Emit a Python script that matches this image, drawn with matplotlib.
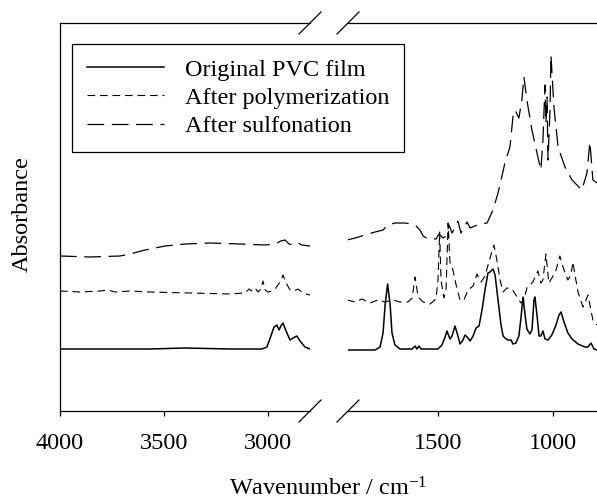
import matplotlib
matplotlib.use("Agg")
import matplotlib.pyplot as plt

plt.rcParams['font.family'] = ['Liberation Serif', 'DejaVu Serif']
plt.rcParams['mathtext.fontset'] = 'custom'
plt.rcParams['mathtext.rm'] = 'Liberation Serif'
plt.rcParams['mathtext.it'] = 'Liberation Serif:italic'
plt.rcParams['lines.scale_dashes'] = False

# --- spectra (wavenumber / cm-1, absorbance a.u.) ---
# high wavenumber part (4000 - 2800)
orig_hi_wn = [4000, 3567, 3399, 3183, 3029, 3005, 2986, 2971, 2957, 2947, 2938, 2928,
              2913, 2894, 2880, 2861, 2846, 2822, 2798]
orig_hi_a = [0.62, 0.62, 0.63, 0.62, 0.62, 0.64, 0.75, 0.84, 0.86, 0.81, 0.85, 0.88,
             0.80, 0.71, 0.73, 0.75, 0.70, 0.64, 0.62]

poly_hi_wn = [4000, 3904, 3808, 3769, 3736, 3663, 3567, 3375, 3183, 3111, 3091, 3077,
              3062, 3048, 3034, 3024, 3014, 3000, 2981, 2966, 2942, 2928, 2913, 2894,
              2875, 2856, 2837, 2817, 2798]
poly_hi_a = [1.20, 1.19, 1.20, 1.21, 1.19, 1.20, 1.19, 1.18, 1.17, 1.18, 1.22, 1.20,
             1.23, 1.19, 1.22, 1.30, 1.21, 1.19, 1.20, 1.22, 1.29, 1.36, 1.28, 1.21,
             1.20, 1.22, 1.19, 1.17, 1.16]

sulf_hi_wn = [4000, 3856, 3712, 3663, 3591, 3495, 3399, 3279, 3135, 3014, 2966, 2938,
              2918, 2899, 2875, 2856, 2837, 2798]
sulf_hi_a = [1.55, 1.54, 1.55, 1.57, 1.61, 1.65, 1.67, 1.68, 1.67, 1.66, 1.67, 1.70,
             1.71, 1.67, 1.66, 1.68, 1.66, 1.65]

# fingerprint part (1900 - 800)
orig_lo_wn = [1897, 1775, 1753, 1740, 1731, 1720, 1709, 1701, 1688, 1666, 1613, 1600,
              1592, 1583, 1574, 1500, 1483, 1469, 1461, 1448, 1439, 1426, 1413, 1404,
              1391, 1382, 1369, 1360, 1347, 1334, 1321, 1308, 1295, 1282, 1273, 1260,
              1251, 1238, 1225, 1216, 1208, 1195, 1181, 1173, 1160, 1147, 1138, 1129,
              1120, 1112, 1099, 1090, 1081, 1077, 1068, 1059, 1051, 1042, 1033, 1020,
              1003, 985, 972, 963, 950, 933, 915, 889, 859, 846, 832, 819, 806]
orig_lo_a = [0.61, 0.61, 0.64, 0.78, 1.06, 1.27, 1.06, 0.78, 0.66, 0.62, 0.62, 0.65,
             0.62, 0.65, 0.62, 0.62, 0.66, 0.74, 0.80, 0.72, 0.75, 0.85, 0.75, 0.67,
             0.71, 0.76, 0.73, 0.70, 0.75, 0.83, 0.85, 1.01, 1.21, 1.38, 1.39, 1.42,
             1.36, 1.11, 0.86, 0.75, 0.73, 0.71, 0.71, 0.67, 0.68, 0.75, 0.93, 1.14,
             0.96, 0.82, 0.77, 0.81, 1.11, 1.14, 0.96, 0.75, 0.75, 0.80, 0.72, 0.71,
             0.76, 0.86, 0.96, 0.99, 0.89, 0.78, 0.72, 0.67, 0.64, 0.64, 0.68, 0.62, 0.61]

poly_lo_wn = [1897, 1862, 1832, 1797, 1762, 1731, 1696, 1666, 1631, 1613, 1600, 1587,
              1565, 1535, 1509, 1500, 1493, 1487, 1474, 1465, 1456, 1448, 1435, 1421,
              1404, 1387, 1369, 1347, 1330, 1312, 1295, 1273, 1256, 1243, 1229, 1216,
              1199, 1177, 1155, 1138, 1125, 1112, 1086, 1064, 1051, 1042, 1029, 1016,
              998, 985, 968, 950, 933, 920, 911, 902, 889, 867, 854, 846, 837, 824, 806]
poly_lo_a = [1.11, 1.09, 1.12, 1.08, 1.11, 1.09, 1.11, 1.09, 1.09, 1.13, 1.34, 1.14,
             1.09, 1.07, 1.12, 1.31, 1.79, 1.31, 1.13, 1.21, 1.88, 1.49, 1.41, 1.26,
             1.11, 1.11, 1.21, 1.25, 1.37, 1.29, 1.35, 1.53, 1.66, 1.51, 1.31, 1.19,
             1.23, 1.22, 1.14, 1.08, 1.11, 1.23, 1.29, 1.40, 1.28, 1.31, 1.57, 1.28,
             1.35, 1.41, 1.55, 1.41, 1.31, 1.36, 1.49, 1.36, 1.19, 1.04, 1.11, 1.16,
             1.06, 0.91, 0.86]

sulf_lo_wn = [1897, 1862, 1818, 1775, 1740, 1718, 1688, 1644, 1613, 1596, 1579, 1565,
              1544, 1509, 1496, 1478, 1465, 1452, 1439, 1426, 1413, 1400, 1387, 1373,
              1360, 1339, 1317, 1286, 1260, 1238, 1208, 1186, 1173, 1164, 1147, 1134,
              1125, 1112, 1090, 1068, 1051, 1042, 1033, 1029, 1024, 1020, 1011, 1007,
              994, 976, 946, 915, 872, 850, 837, 824, 806]
sulf_lo_a = [1.71, 1.73, 1.76, 1.79, 1.81, 1.86, 1.88, 1.88, 1.87, 1.85, 1.81, 1.75,
             1.72, 1.72, 1.77, 1.73, 1.75, 1.86, 1.78, 1.83, 1.90, 1.78, 1.84, 1.89,
             1.83, 1.85, 1.87, 1.88, 2.01, 2.18, 2.48, 2.64, 2.94, 3.01, 2.93, 3.11,
             3.34, 3.11, 2.81, 2.58, 2.41, 2.71, 3.26, 2.88, 3.14, 2.51, 3.01, 3.56,
             3.04, 2.64, 2.44, 2.31, 2.21, 2.38, 2.69, 2.31, 2.28]

labels = ['Original PVC film', 'After polymerization', 'After sulfonation']

W, H = 597, 501
fig = plt.figure(figsize=(W / 100, H / 100), dpi=100)
ax_l = fig.add_axes([60 / W, 90 / H, 250 / W, 388 / H])
ax_r = fig.add_axes([348 / W, 90 / H, 249 / W, 388 / H])

styles = [dict(color='black', lw=1.1, linestyle='-'),
          dict(color='black', lw=0.8, linestyle=(0, (5.5, 3.5))),
          dict(color='black', lw=0.9, linestyle=(0, (12, 5.5)))]

hi = [(orig_hi_wn, orig_hi_a), (poly_hi_wn, poly_hi_a), (sulf_hi_wn, sulf_hi_a)]
lo = [(orig_lo_wn, orig_lo_a), (poly_lo_wn, poly_lo_a), (sulf_lo_wn, sulf_lo_a)]

handles = []
for (x, y), st, lab in zip(hi, styles, labels):
    h, = ax_l.plot(x, y, label=lab, **st)
    handles.append(h)
for (x, y), st in zip(lo, styles):
    ax_r.plot(x, y, **st)

ax_l.set_xlim(4000, 2798)
ax_r.set_xlim(1893, 806)
for ax in (ax_l, ax_r):
    ax.set_ylim(0, 3.88)
    ax.set_yticks([])
    ax.patch.set_visible(False)
    ax.tick_params(axis='x', direction='out', length=3.6, width=0.9,
                   labelsize=17.5, pad=12)
    for s in ax.spines.values():
        s.set_linewidth(0.9)
ax_l.set_xticks([4000, 3500, 3000])
ax_r.set_xticks([1500, 1000])
ax_l.spines['right'].set_visible(False)
ax_r.spines['left'].set_visible(False)
ax_r.spines['right'].set_visible(False)

# break marks on the axis
for ax, x0, w in ((ax_l, 1.0, 250), (ax_r, 0.0, 249)):
    dx, dy = 11 / w, 11 / 388
    for y0 in (0, 1):
        ax.plot([x0 - dx, x0 + dx], [y0 - dy, y0 + dy], color='black', lw=0.9,
                transform=ax.transAxes, clip_on=False)

fig.text(328 / W, 0.5 / H, 'Wavenumber / cm$^{-1}$', ha='center', va='bottom',
         fontsize=17.5)
fig.text(22 / W, 1 - 214 / H, 'Absorbance', rotation=90, ha='center',
         va='center', fontsize=17.5)

leg = fig.legend(handles=handles, loc='upper left',
                 bbox_to_anchor=(72 / W, 1 - 44 / H), bbox_transform=fig.transFigure,
                 borderaxespad=0, fontsize=17.5, handlelength=3.2,
                 handletextpad=0.86, borderpad=0.6, labelspacing=0.26,
                 fancybox=False, framealpha=1, edgecolor='black')
leg.get_frame().set_linewidth(0.9)

fig.savefig('out.png', dpi=100)
